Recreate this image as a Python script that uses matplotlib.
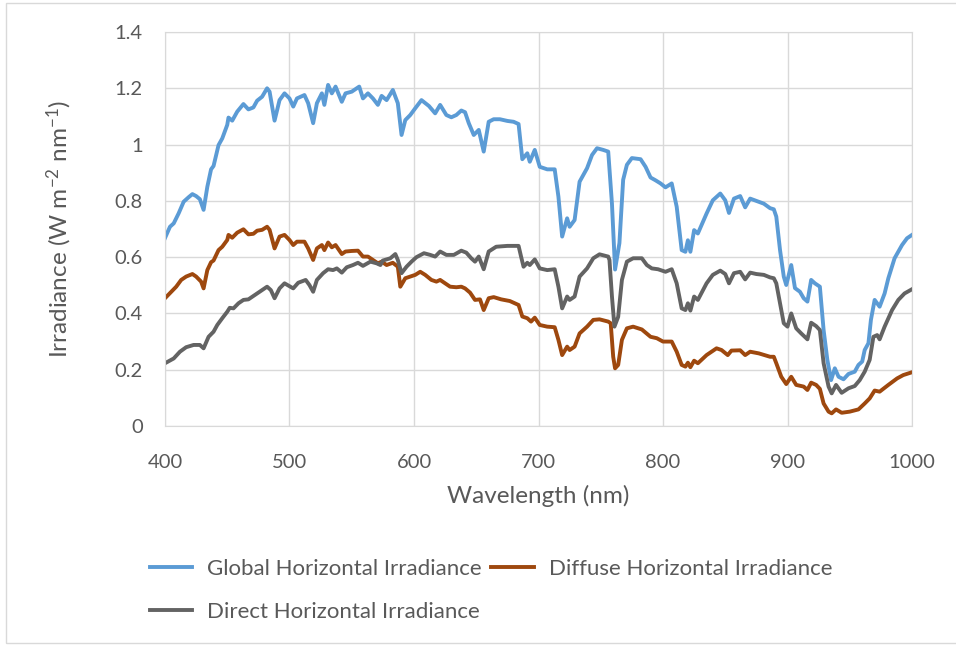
import numpy as np
import matplotlib
matplotlib.use('Agg')
import matplotlib.pyplot as plt
from matplotlib.patches import Rectangle
from matplotlib.ticker import FuncFormatter

plt.rcParams['font.family'] = ['Lato', 'DejaVu Sans']
plt.rcParams['mathtext.fontset'] = 'custom'
plt.rcParams['mathtext.rm'] = 'Lato'
plt.rcParams['mathtext.it'] = 'Lato:italic'

# Global horizontal irradiance
global_wl = [400, 404, 407, 411, 415, 419, 422, 425, 428, 431, 434, 437, 439, 443, 446, 450, 451,
             454, 458, 463, 467, 471, 474, 478, 482, 484, 488, 492, 496, 500, 503, 506, 512, 515,
             519, 522, 526, 528, 531, 534, 537, 542, 545, 550, 556, 559, 563, 567, 571, 574, 578,
             583, 587, 590, 593, 597, 601, 606, 612, 617, 621, 626, 630, 634, 638, 641, 644, 648,
             652, 656, 660, 664, 669, 675, 680, 684, 687, 691, 693, 697, 701, 707, 713, 716, 719,
             723, 725, 729, 733, 739, 743, 747, 752, 756, 759, 761.5, 765, 768, 771, 775, 782, 786,
             790, 794, 798, 802, 807, 811, 815, 818, 820, 822, 825, 828, 835, 840, 846, 850, 853,
             857, 862, 866, 870, 875, 881, 886, 889, 891, 894, 897, 899, 902, 903, 906, 910, 913,
             916, 919, 922, 926, 929, 932, 935, 938, 941, 945, 949, 954, 957, 960, 962, 965, 967,
             970, 974, 978, 981, 986, 992, 996, 1000]
global_val = [0.668, 0.708, 0.72, 0.756, 0.797, 0.813, 0.824, 0.817, 0.806, 0.768, 0.85, 0.912,
              0.924, 0.998, 1.022, 1.07, 1.096, 1.085, 1.117, 1.144, 1.125, 1.132, 1.156, 1.17,
              1.2, 1.188, 1.085, 1.158, 1.182, 1.164, 1.135, 1.164, 1.176, 1.147, 1.076, 1.147,
              1.182, 1.141, 1.212, 1.182, 1.206, 1.152, 1.182, 1.188, 1.206, 1.164, 1.182, 1.164,
              1.141, 1.173, 1.158, 1.194, 1.147, 1.034, 1.087, 1.105, 1.129, 1.158, 1.137, 1.111,
              1.141, 1.105, 1.097, 1.105, 1.121, 1.115, 1.076, 1.034, 1.052, 0.975, 1.081, 1.09,
              1.09, 1.084, 1.081, 1.073, 0.948, 0.969, 0.939, 0.981, 0.921, 0.912, 0.912, 0.815,
              0.673, 0.738, 0.708, 0.732, 0.868, 0.916, 0.963, 0.987, 0.981, 0.975, 0.79, 0.556,
              0.65, 0.875, 0.928, 0.952, 0.948, 0.921, 0.883, 0.873, 0.862, 0.848, 0.862, 0.779,
              0.625, 0.619, 0.66, 0.619, 0.696, 0.684, 0.755, 0.802, 0.826, 0.802, 0.757, 0.808,
              0.817, 0.777, 0.808, 0.8, 0.79, 0.774, 0.77, 0.744, 0.625, 0.531, 0.501, 0.555,
              0.572, 0.49, 0.477, 0.454, 0.442, 0.519, 0.507, 0.495, 0.341, 0.235, 0.163, 0.205,
              0.175, 0.166, 0.185, 0.193, 0.217, 0.229, 0.27, 0.294, 0.377, 0.448, 0.424, 0.471,
              0.525, 0.596, 0.643, 0.667, 0.679]

# Diffuse horizontal irradiance
diffuse_wl = [400, 405, 409, 413, 417, 422, 425, 429, 431, 434, 437, 439, 443, 446, 450, 451, 454,
              458, 463, 467, 471, 474, 478, 482, 484, 488, 492, 496, 500, 503, 506, 512, 515, 519,
              522, 526, 528, 531, 534, 537, 542, 545, 550, 555, 559, 563, 567, 571, 574, 578, 583,
              587, 589, 593, 597, 601, 605, 609, 614, 618, 621, 625, 629, 634, 638, 641, 645, 649,
              653, 656, 660, 664, 670, 677, 684, 687, 691, 694, 697, 701, 707, 713, 716, 719, 723,
              725, 729, 733, 739, 744, 749, 756, 758, 760, 761.5, 764, 767, 771, 776, 783, 790,
              795, 800, 807, 811, 815, 818, 820, 822, 825, 828, 835, 843, 847, 852, 855, 862, 866,
              870, 877, 886, 889, 891, 895, 899, 903, 907, 913, 916, 919, 923, 926, 929, 933,
              935.5, 939, 943.5, 950, 957, 962, 966, 970, 974, 981, 988, 993, 1000]
diffuse_val = [0.454, 0.477, 0.495, 0.519, 0.531, 0.54, 0.531, 0.513, 0.489, 0.554, 0.582, 0.588,
               0.625, 0.637, 0.661, 0.679, 0.669, 0.687, 0.699, 0.681, 0.683, 0.694, 0.697, 0.708,
               0.697, 0.631, 0.673, 0.679, 0.661, 0.643, 0.655, 0.655, 0.631, 0.59, 0.631, 0.643,
               0.625, 0.652, 0.635, 0.643, 0.611, 0.62, 0.622, 0.623, 0.602, 0.602, 0.59, 0.578,
               0.584, 0.572, 0.58, 0.566, 0.495, 0.525, 0.531, 0.537, 0.548, 0.537, 0.519, 0.513,
               0.519, 0.507, 0.495, 0.493, 0.495, 0.489, 0.474, 0.448, 0.45, 0.412, 0.454, 0.458,
               0.45, 0.444, 0.43, 0.389, 0.383, 0.371, 0.385, 0.359, 0.353, 0.351, 0.306, 0.252,
               0.282, 0.27, 0.282, 0.329, 0.353, 0.377, 0.379, 0.371, 0.365, 0.246, 0.205, 0.217,
               0.306, 0.347, 0.353, 0.343, 0.317, 0.312, 0.3, 0.3, 0.264, 0.217, 0.211, 0.225,
               0.209, 0.232, 0.223, 0.252, 0.276, 0.27, 0.252, 0.268, 0.269, 0.252, 0.264, 0.258,
               0.246, 0.246, 0.223, 0.175, 0.149, 0.175, 0.146, 0.14, 0.128, 0.154, 0.146, 0.132,
               0.08, 0.051, 0.045, 0.059, 0.047, 0.051, 0.059, 0.08, 0.098, 0.126, 0.122, 0.146,
               0.169, 0.181, 0.191]

# Direct horizontal irradiance
direct_wl = [400, 407, 412, 417, 423, 428, 431, 435, 439, 442, 446, 450, 452, 455, 459, 463, 467,
             471, 475, 479, 482, 485, 488, 492, 496, 503, 507, 513, 516, 519, 522, 527, 531, 535,
             538, 542, 546, 551, 555, 559, 565, 570, 573, 575, 581, 585, 587, 590, 594, 598, 602,
             608, 613, 617, 621, 626, 632, 638, 642, 646, 649, 652, 656, 660, 666, 675, 684, 686,
             688, 691, 693, 697, 701, 707, 713, 716, 719, 723, 725, 729, 733, 739, 744, 749, 756,
             757, 759, 761, 764, 767, 771, 776, 783, 787, 791, 796, 802, 807, 811, 815, 818, 820,
             822, 825, 828, 835, 840, 846, 850, 853, 857, 862, 866, 870, 875, 881, 886, 889, 891,
             894, 897, 900, 903, 907, 911, 916, 919, 923, 926, 929, 933, 935.5, 939, 943.5, 949,
             954, 958, 962, 966, 969, 972, 974, 978, 984, 989, 994, 1000]
direct_val = [0.223, 0.24, 0.264, 0.28, 0.288, 0.288, 0.276, 0.317, 0.335, 0.359, 0.383, 0.406,
              0.42, 0.418, 0.436, 0.448, 0.45, 0.462, 0.474, 0.486, 0.495, 0.483, 0.454, 0.489,
              0.507, 0.489, 0.509, 0.519, 0.501, 0.477, 0.519, 0.543, 0.557, 0.554, 0.56, 0.545,
              0.564, 0.572, 0.58, 0.569, 0.584, 0.578, 0.572, 0.588, 0.596, 0.611, 0.59, 0.543,
              0.566, 0.584, 0.6, 0.614, 0.608, 0.602, 0.62, 0.608, 0.608, 0.623, 0.616, 0.596,
              0.584, 0.602, 0.557, 0.62, 0.637, 0.64, 0.64, 0.602, 0.566, 0.58, 0.572, 0.592,
              0.56, 0.554, 0.557, 0.495, 0.418, 0.46, 0.448, 0.46, 0.531, 0.56, 0.596, 0.61, 0.602,
              0.59, 0.46, 0.353, 0.388, 0.519, 0.584, 0.596, 0.596, 0.572, 0.56, 0.557, 0.548,
              0.557, 0.507, 0.418, 0.412, 0.436, 0.41, 0.46, 0.448, 0.507, 0.537, 0.552, 0.54,
              0.507, 0.543, 0.548, 0.521, 0.545, 0.54, 0.537, 0.528, 0.525, 0.507, 0.436, 0.365,
              0.353, 0.4, 0.347, 0.329, 0.308, 0.367, 0.355, 0.341, 0.223, 0.14, 0.116, 0.146,
              0.118, 0.134, 0.142, 0.163, 0.193, 0.235, 0.317, 0.323, 0.308, 0.353, 0.412, 0.448,
              0.471, 0.486]

x_ticks = [400, 500, 600, 700, 800, 900, 1000]
y_ticks = [0, 0.2, 0.4, 0.6, 0.8, 1.0, 1.2, 1.4]

text_col = '#595959'
grid_col = '#D9D9D9'

fig = plt.figure(figsize=(9.56, 6.46), dpi=100)
# Chart frame
fig.patches.append(Rectangle((6/956, 3/646), 1.0, 640/646, transform=fig.transFigure,
                             fill=False, edgecolor=grid_col, linewidth=1.0))
ax = fig.add_axes([165/956, 1-426/646, 747/956, 394/646])

lg, = ax.plot(global_wl, global_val, color='#5B9BD5', lw=2.8, solid_joinstyle='round',
              label='Global Horizontal Irradiance')
ld, = ax.plot(diffuse_wl, diffuse_val, color='#9E480E', lw=2.8, solid_joinstyle='round',
              label='Diffuse Horizontal Irradiance')
lb, = ax.plot(direct_wl, direct_val, color='#636363', lw=2.8, solid_joinstyle='round',
              label='Direct Horizontal Irradiance')

ax.set_xlim(400, 1000)
ax.set_ylim(0, 1.4)
ax.set_xticks(x_ticks)
ax.set_yticks(y_ticks)
ax.yaxis.set_major_formatter(FuncFormatter(lambda v, p: '%g' % round(v, 1)))
ax.grid(True, color=grid_col, lw=1.0)
ax.set_axisbelow(True)
for s in ax.spines.values():
    s.set_color(grid_col)
ax.tick_params(length=0, labelsize=14.5, colors=text_col)
ax.tick_params(axis='y', pad=16)
ax.tick_params(axis='x', pad=20)

ax.set_xlabel('Wavelength (nm)', fontsize=17.5, color=text_col)
ax.set_ylabel(r'Irradiance (W m$^{-2}$ nm$^{-1}$)', fontsize=17.5, color=text_col)
ax.xaxis.set_label_coords(0.5, -0.15)
ax.yaxis.set_label_coords(-0.122, 0.5)

fig.legend(handles=[lg, lb, ld], loc='upper left', ncol=2, frameon=False,
           bbox_to_anchor=(150/956, 1-559/646), fontsize=16, labelcolor=text_col,
           handlelength=1.9, handletextpad=0.68, columnspacing=0.42, labelspacing=1.04,
           borderpad=0, borderaxespad=0)

fig.savefig('out.png', dpi=100)
